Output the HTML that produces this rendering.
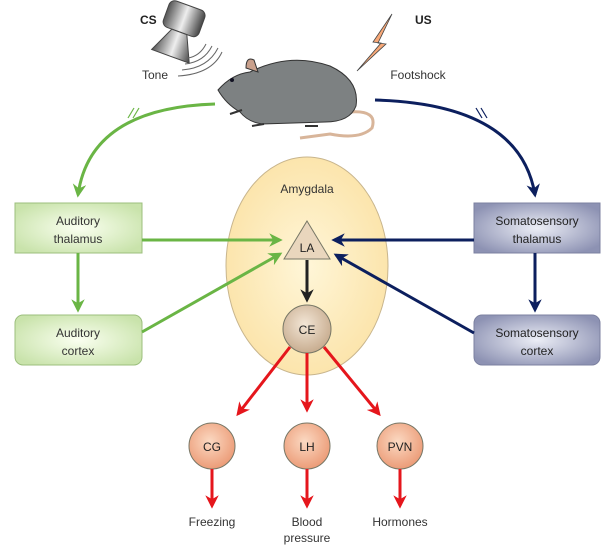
<!DOCTYPE html>
<html><head><style>
body{margin:0;background:#fff;}
svg{display:block;font-family:"Liberation Sans",sans-serif;}
</style></head><body>
<svg width="608" height="556" viewBox="0 0 608 556">
<defs>
<radialGradient id="gb" cx="50%" cy="50%" r="60%"><stop offset="0" stop-color="#fafff0"/><stop offset="1" stop-color="#c9e3ab"/></radialGradient>
<radialGradient id="bb" cx="50%" cy="50%" r="60%"><stop offset="0" stop-color="#eceef6"/><stop offset="1" stop-color="#8d92b3"/></radialGradient>
<radialGradient id="am" cx="50%" cy="50%" r="55%"><stop offset="0" stop-color="#fff6d8"/><stop offset="1" stop-color="#fbe3a8"/></radialGradient>
<radialGradient id="rc" cx="45%" cy="40%" r="60%"><stop offset="0" stop-color="#fbd9c2"/><stop offset="1" stop-color="#ec9c78"/></radialGradient>
<radialGradient id="ce" cx="45%" cy="40%" r="60%"><stop offset="0" stop-color="#f3e6d6"/><stop offset="1" stop-color="#c8ad90"/></radialGradient>
<linearGradient id="sp" x1="0" x2="1"><stop offset="0" stop-color="#555"/><stop offset=".5" stop-color="#eee"/><stop offset="1" stop-color="#444"/></linearGradient>
<marker id="ag" viewBox="0 0 10 10" refX="8" refY="5" markerWidth="4.5" markerHeight="4.5" orient="auto"><path d="M0,0L10,5L0,10L3,5z" fill="#6ab545"/></marker>
<marker id="ab" viewBox="0 0 10 10" refX="8" refY="5" markerWidth="4.5" markerHeight="4.5" orient="auto"><path d="M0,0L10,5L0,10L3,5z" fill="#0c1f5e"/></marker>
<marker id="ar" viewBox="0 0 10 10" refX="8" refY="5" markerWidth="4.5" markerHeight="4.5" orient="auto"><path d="M0,0L10,5L0,10L3,5z" fill="#e5161c"/></marker>
<marker id="ak" viewBox="0 0 10 10" refX="8" refY="5" markerWidth="4.5" markerHeight="4.5" orient="auto"><path d="M0,0L10,5L0,10L3,5z" fill="#222"/></marker>
</defs>
<text x="140" y="24" font-size="12" font-weight="bold" fill="#222">CS</text>
<text x="415" y="24" font-size="12" font-weight="bold" fill="#222">US</text>
<text x="155" y="79" font-size="12" text-anchor="middle" fill="#333">Tone</text>
<text x="418" y="79" font-size="12" text-anchor="middle" fill="#333">Footshock</text>
<g transform="rotate(20 180 30)">
<rect x="161" y="4" width="38" height="28" rx="6" fill="url(#sp)" stroke="#444"/>
<path d="M172,32 L188,32 L200,58 L160,58 Z" fill="url(#sp)" stroke="#444"/>
</g>
<g fill="none" stroke="#666" stroke-width="1">
<path d="M188,58 Q200,56 206,44"/><path d="M185,64 Q204,62 212,46"/><path d="M182,70 Q208,68 218,48"/><path d="M178,76 Q212,74 222,52"/>
</g>
<path d="M392,14 L373,42 L381,43 L357,71 L386,44 L378,43 Z" fill="#f7a878" stroke="#444" stroke-width=".8"/>
<!-- rat -->
<path d="M350,112 Q378,110 372,128 Q360,140 330,134 Q315,136 300,138" fill="none" stroke="#d8b59a" stroke-width="3"/>
<path d="M218,90 Q232,74 250,72 Q290,52 330,66 Q360,80 356,106 Q350,122 325,122 L262,124 Q248,122 240,112 Q226,104 218,90 Z" fill="#7d8182" stroke="#333"/>
<path d="M246,68 Q246,56 254,60 L258,72 Z" fill="#c9a08c" stroke="#333"/>
<circle cx="232" cy="80" r="2" fill="#112"/>
<path d="M230,114 L242,110 M252,126 L264,124 M305,126 L318,126" stroke="#333" stroke-width="2"/>
<path d="M215,104 Q90,108 78,195" fill="none" stroke="#6ab545" stroke-width="3" marker-end="url(#ag)"/>
<path d="M375,100 Q520,104 535,195" fill="none" stroke="#0c1f5e" stroke-width="3" marker-end="url(#ab)"/>
<path d="M128,118 l6,-10 M133,118 l6,-10" stroke="#6ab545" stroke-width="1.2"/>
<path d="M482,118 l-6,-10 M487,118 l-6,-10" stroke="#0c1f5e" stroke-width="1.2"/>
<ellipse cx="307" cy="266" rx="81" ry="109" fill="url(#am)" stroke="#c8b58d"/>
<text x="307" y="193" font-size="12" text-anchor="middle" fill="#333">Amygdala</text>
<rect x="15" y="203" width="127" height="50" fill="url(#gb)" stroke="#9cbf7d"/>
<text x="78" y="225" font-size="12" text-anchor="middle" fill="#333">Auditory</text>
<text x="78" y="243" font-size="12" text-anchor="middle" fill="#333">thalamus</text>
<rect x="15" y="315" width="127" height="50" rx="8" fill="url(#gb)" stroke="#9cbf7d"/>
<text x="78" y="337" font-size="12" text-anchor="middle" fill="#333">Auditory</text>
<text x="78" y="355" font-size="12" text-anchor="middle" fill="#333">cortex</text>
<rect x="474" y="203" width="126" height="50" fill="url(#bb)" stroke="#7c81a0"/>
<text x="537" y="225" font-size="12" text-anchor="middle" fill="#222">Somatosensory</text>
<text x="537" y="243" font-size="12" text-anchor="middle" fill="#222">thalamus</text>
<rect x="474" y="315" width="126" height="50" rx="8" fill="url(#bb)" stroke="#7c81a0"/>
<text x="537" y="337" font-size="12" text-anchor="middle" fill="#222">Somatosensory</text>
<text x="537" y="355" font-size="12" text-anchor="middle" fill="#222">cortex</text>
<line x1="78" y1="253" x2="78" y2="310" stroke="#6ab545" stroke-width="3" marker-end="url(#ag)"/>
<line x1="535" y1="253" x2="535" y2="310" stroke="#0c1f5e" stroke-width="3" marker-end="url(#ab)"/>
<line x1="142" y1="240" x2="280" y2="240" stroke="#6ab545" stroke-width="3" marker-end="url(#ag)"/>
<line x1="142" y1="332" x2="280" y2="254" stroke="#6ab545" stroke-width="3" marker-end="url(#ag)"/>
<line x1="474" y1="240" x2="334" y2="240" stroke="#0c1f5e" stroke-width="3" marker-end="url(#ab)"/>
<line x1="474" y1="333" x2="336" y2="255" stroke="#0c1f5e" stroke-width="3" marker-end="url(#ab)"/>
<path d="M307,221 L330,259 L284,259 Z" fill="#e9d6bd" stroke="#776"/>
<text x="307" y="252" font-size="12" text-anchor="middle" fill="#222">LA</text>
<line x1="307" y1="260" x2="307" y2="300" stroke="#222" stroke-width="3" marker-end="url(#ak)"/>
<circle cx="307" cy="329" r="24" fill="url(#ce)" stroke="#776"/>
<text x="307" y="334" font-size="12" text-anchor="middle" fill="#222">CE</text>
<line x1="290" y1="347" x2="238" y2="414" stroke="#e5161c" stroke-width="3" marker-end="url(#ar)"/>
<line x1="307" y1="353" x2="307" y2="410" stroke="#e5161c" stroke-width="3" marker-end="url(#ar)"/>
<line x1="324" y1="347" x2="379" y2="414" stroke="#e5161c" stroke-width="3" marker-end="url(#ar)"/>
<circle cx="212" cy="446" r="23" fill="url(#rc)" stroke="#776"/>
<circle cx="307" cy="446" r="23" fill="url(#rc)" stroke="#776"/>
<circle cx="400" cy="446" r="23" fill="url(#rc)" stroke="#776"/>
<text x="212" y="451" font-size="12" text-anchor="middle" fill="#222">CG</text>
<text x="307" y="451" font-size="12" text-anchor="middle" fill="#222">LH</text>
<text x="400" y="451" font-size="12" text-anchor="middle" fill="#222">PVN</text>
<line x1="212" y1="469" x2="212" y2="506" stroke="#e5161c" stroke-width="3" marker-end="url(#ar)"/>
<line x1="307" y1="469" x2="307" y2="506" stroke="#e5161c" stroke-width="3" marker-end="url(#ar)"/>
<line x1="400" y1="469" x2="400" y2="506" stroke="#e5161c" stroke-width="3" marker-end="url(#ar)"/>
<text x="212" y="526" font-size="12" text-anchor="middle" fill="#333">Freezing</text>
<text x="307" y="526" font-size="12" text-anchor="middle" fill="#333">Blood</text>
<text x="307" y="542" font-size="12" text-anchor="middle" fill="#333">pressure</text>
<text x="400" y="526" font-size="12" text-anchor="middle" fill="#333">Hormones</text>
</svg>
</body></html>
